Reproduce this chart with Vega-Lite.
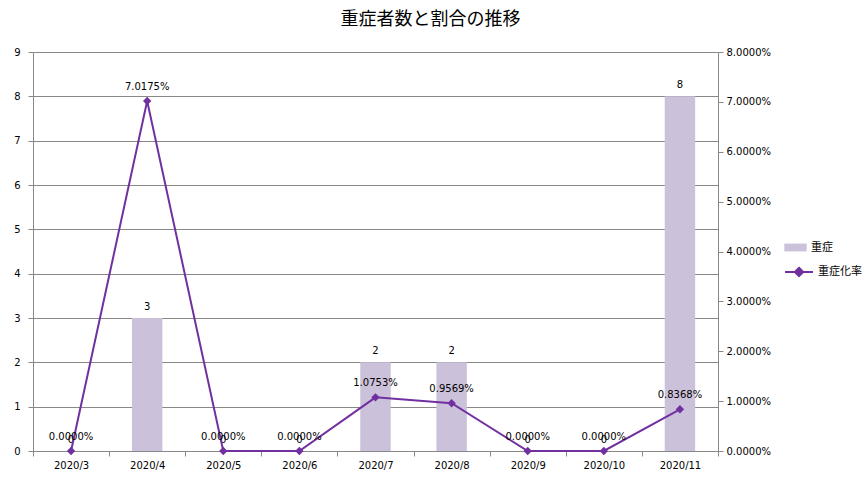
{
  "$schema": "https://vega.github.io/schema/vega-lite/v6.json",
  "width": 685,
  "height": 399,
  "autosize": "none",
  "padding": {"left": 33, "top": 52, "right": 147, "bottom": 30},
  "background": "white",
  "title": {
    "text": "重症者数と割合の推移",
    "font": "Noto Sans CJK JP",
    "fontSize": 18,
    "fontWeight": "normal",
    "color": "black",
    "dx": 55,
    "offset": 18
  },
  "config": {
    "view": {"stroke": null},
    "axis": {
      "labelFont": "DejaVu Sans",
      "labelFontSize": 10,
      "labelColor": "black",
      "domainColor": "#888888",
      "tickColor": "#888888",
      "gridColor": "#888888",
      "tickSize": 5,
      "title": null
    },
    "legend": {
      "labelFont": "Noto Sans CJK JP",
      "labelFontSize": 11,
      "labelColor": "black",
      "padding": 0,
      "title": null
    }
  },
  "data": {
    "values": [
      {"month": "2020/3", "severe": 0, "rate": 0},
      {"month": "2020/4", "severe": 3, "rate": 0.070175},
      {"month": "2020/5", "severe": 0, "rate": 0},
      {"month": "2020/6", "severe": 0, "rate": 0},
      {"month": "2020/7", "severe": 2, "rate": 0.010753},
      {"month": "2020/8", "severe": 2, "rate": 0.009569},
      {"month": "2020/9", "severe": 0, "rate": 0},
      {"month": "2020/10", "severe": 0, "rate": 0},
      {"month": "2020/11", "severe": 8, "rate": 0.008368}
    ]
  },
  "encoding": {
    "x": {
      "field": "month",
      "type": "ordinal",
      "sort": null,
      "scale": {"paddingInner": 0, "paddingOuter": 0},
      "axis": {"labelAngle": 0, "tickBand": "extent", "grid": false, "labelPadding": 4}
    }
  },
  "layer": [
    {
      "layer": [
        {
          "mark": {"type": "bar", "width": {"band": 0.4}},
          "encoding": {
            "y": {
              "field": "severe",
              "type": "quantitative",
              "scale": {"domain": [0, 9]},
              "axis": {"orient": "left", "values": [0, 1, 2, 3, 4, 5, 6, 7, 8, 9], "grid": true, "labelPadding": 8}
            },
            "color": {
              "datum": "重症",
              "scale": {"range": ["#CCC1DA"]},
              "legend": {
                "orient": "none",
                "legendX": 751,
                "legendY": 184,
                "symbolType": "M-1,-0.35L1,-0.35L1,0.35L-1,0.35Z",
                "symbolSize": 500,
                "symbolStrokeWidth": 0,
                "labelOffset": 4
              }
            }
          }
        },
        {
          "mark": {"type": "text", "baseline": "bottom", "dy": -6, "font": "DejaVu Sans", "fontSize": 10, "color": "black"},
          "encoding": {
            "y": {"field": "severe", "type": "quantitative", "scale": {"domain": [0, 9]}},
            "text": {"field": "severe", "type": "quantitative"}
          }
        }
      ]
    },
    {
      "layer": [
        {
          "mark": {"type": "line", "strokeWidth": 2},
          "encoding": {
            "y": {
              "field": "rate",
              "type": "quantitative",
              "scale": {"domain": [0, 0.08]},
              "axis": {
                "orient": "right",
                "format": ".4%",
                "values": [0, 0.01, 0.02, 0.03, 0.04, 0.05, 0.06, 0.07, 0.08],
                "grid": false,
                "labelPadding": 3
              }
            },
            "stroke": {
              "datum": "重症化率",
              "scale": {"range": ["#7030A0"]},
              "legend": {
                "orient": "none",
                "legendX": 751,
                "legendY": 205,
                "symbolType": "M-1,0L1,0M0,-0.3L0.3,0L0,0.3L-0.3,0Z",
                "symbolSize": 784,
                "symbolStrokeWidth": 2,
                "symbolFillColor": "#7030A0",
                "labelOffset": 4
              }
            }
          }
        },
        {
          "mark": {"type": "point", "shape": "diamond", "filled": true, "size": 70, "color": "#7030A0", "opacity": 1},
          "encoding": {
            "y": {"field": "rate", "type": "quantitative", "scale": {"domain": [0, 0.08]}}
          }
        },
        {
          "mark": {"type": "text", "baseline": "bottom", "dy": -9, "font": "DejaVu Sans", "fontSize": 10, "color": "black"},
          "encoding": {
            "y": {"field": "rate", "type": "quantitative", "scale": {"domain": [0, 0.08]}},
            "text": {"field": "rate", "type": "quantitative", "format": ".4%"}
          }
        }
      ]
    }
  ],
  "resolve": {"scale": {"y": "independent", "color": "independent", "stroke": "independent"}}
}
